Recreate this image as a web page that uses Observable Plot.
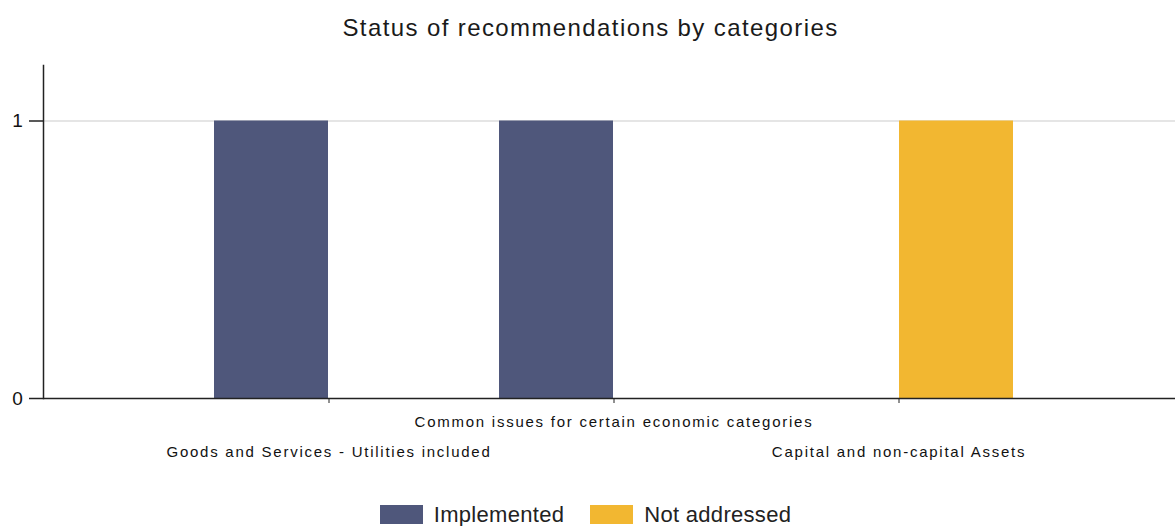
<!DOCTYPE html>
<html>
<head>
<meta charset="utf-8">
<script src="https://cdn.jsdelivr.net/npm/d3@7"></script>
<script src="https://cdn.jsdelivr.net/npm/@observablehq/plot@0.6"></script>
<style>
  html, body { margin: 0; padding: 0; background: #fff; }
  body { width: 1175px; height: 526px; overflow: hidden; font-family: "Liberation Sans", Arial, sans-serif; color: #111; }
  #title { height: 56px; line-height: 56px; text-align: center; font-size: 24px; letter-spacing: 1.4px; color: #1a1a1a; padding-left: 6px; }
  #legend { display: flex; justify-content: center; margin-top: 22px; padding-left: 22px; letter-spacing: 0.3px; }
  #legend > div > span { margin-right: 26px !important; }
  #chart svg text { letter-spacing: 1.75px; }
</style>
</head>
<body>
<div id="title">Status of recommendations by categories</div>
<div id="chart"></div>
<div id="legend"></div>
<script>
const categories = [
  "Goods and Services - Utilities included",
  "Common issues for certain economic categories",
  "Capital and non-capital Assets"
];
const statuses = ["Implemented", "Not addressed"];
const implementedValues = [1, 1, 0];
const notAddressedValues = [0, 0, 1];
const colors = ["#4f577b", "#f2b731"];
const yTicks = [0, 1];

const data = [];
categories.forEach((c, i) => {
  data.push({category: c, status: statuses[0], value: implementedValues[i]});
  data.push({category: c, status: statuses[1], value: notAddressedValues[i]});
});

const font = "'Liberation Sans', Arial, sans-serif";

const chart = Plot.plot({
  width: 1175,
  height: 420,
  marginTop: 9,
  marginBottom: 78,
  marginLeft: 43,
  marginRight: 0,
  style: {fontFamily: font, background: "#fff", color: "#111"},
  x: {type: "band", domain: categories, range: [186, 1041], padding: 0, axis: null},
  y: {domain: [0, 1.2], axis: null},
  color: {domain: statuses, range: colors},
  marks: [
    Plot.ruleY([1], {stroke: "#dcdcdc", strokeWidth: 1.5}),
    Plot.barY(data.filter(d => d.status === statuses[0]), {
      x: "category", y: "value", fill: "status", insetLeft: 28, insetRight: 143
    }),
    Plot.barY(data.filter(d => d.status === statuses[1]), {
      x: "category", y: "value", fill: "status", insetLeft: 143, insetRight: 28
    }),
    Plot.ruleY([0], {stroke: "#222", strokeWidth: 1.5}),
    Plot.frame({anchor: "left", stroke: "#222", strokeWidth: 1.5}),
    Plot.axisY(yTicks, {tickSize: 14, tickPadding: 5, fontSize: 19, stroke: "#222", strokeWidth: 1.5, tickFormat: d3.format("d"), label: null}),
    Plot.axisX(categories, {tickSize: 5, stroke: "#222", tickFormat: () => "", label: null}),
    Plot.axisX([categories[1]], {tickSize: 0, tickPadding: 18, fontSize: 15, label: null}),
    Plot.axisX([categories[0], categories[2]], {tickSize: 0, tickPadding: 48, fontSize: 15, label: null})
  ]
});
document.getElementById("chart").appendChild(chart);

const legend = Plot.legend({
  color: {domain: statuses, range: colors},
  swatchWidth: 43,
  swatchHeight: 19,
  style: {fontSize: "22px", fontFamily: font, color: "#222"}
});
document.getElementById("legend").appendChild(legend);
</script>
</body>
</html>
